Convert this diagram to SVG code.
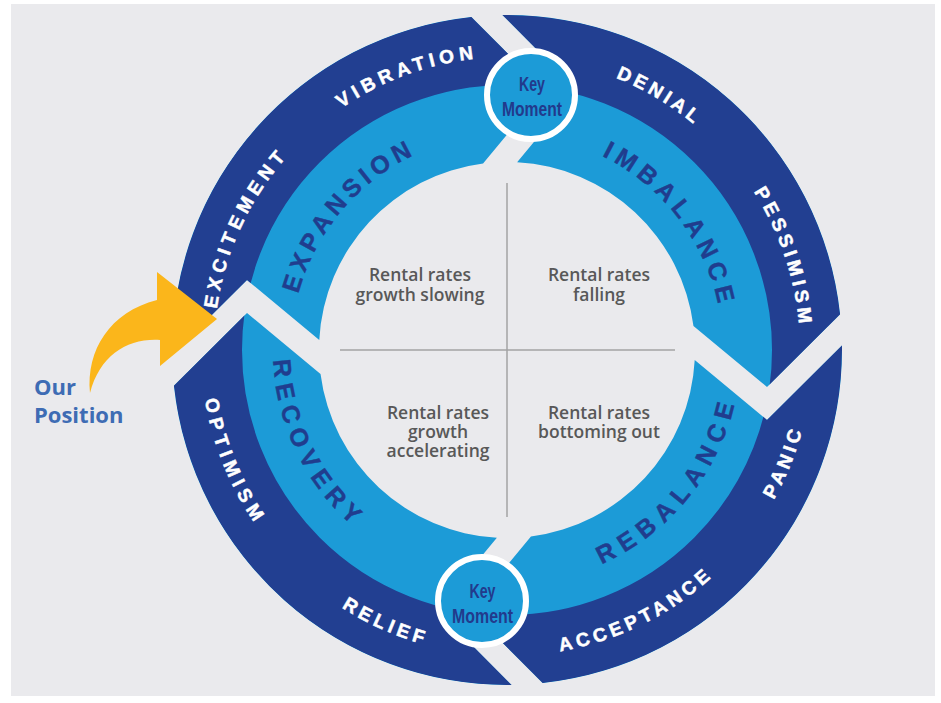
<svg xmlns="http://www.w3.org/2000/svg" width="941" height="703" viewBox="0 0 941 703">
  <defs>
    <style>
      .lbl-out{font-family:"Liberation Sans",Arial,sans-serif;font-weight:700;font-size:19px;fill:#ffffff;stroke:#ffffff;stroke-width:0.5px}
      .lbl-in{font-family:"Liberation Sans",Arial,sans-serif;font-weight:700;font-size:25px;fill:#203d8e;stroke:#203d8e;stroke-width:0.4px}
      .note{font-family:"Open Sans","Liberation Sans",sans-serif;font-weight:600;font-size:17.5px;fill:#585858;text-anchor:middle}
      .km-circle{fill:#1c9bd7;stroke:#ffffff;stroke-width:6}
      .km-text{font-family:"Liberation Sans",Arial,sans-serif;font-weight:700;font-size:19.5px;fill:#223a8c;text-anchor:middle}
      .axis{stroke:#a3a3a3;stroke-width:1.5;fill:none}
      .pos{font-family:"Open Sans","Liberation Sans",sans-serif;font-weight:700;font-size:22px;fill:#3e6cb4}
    </style>

    <!-- one quarter of the cycle ring: notch at the start, arrow tip at the end -->
    <path id="seg-shape" d="M 841.96 345.46 A 335 335 0 0 1 542.68 683.09 L 470 610 L 530.93 536.47 A 188 188 0 0 0 694.73 360.12 L 767 420 Z"/>
    <clipPath id="seg-clip"><use href="#seg-shape"/></clipPath>
    <g id="segment">
      <use href="#seg-shape" fill="#1c9bd7"/>
      <circle cx="507" cy="350" r="300" fill="none" stroke="#223f91" stroke-width="70" clip-path="url(#seg-clip)"/>
    </g>

    <!-- label baselines (outer band r=293 clockwise / r=306 counter-clockwise, inner band r=216 / r=234) -->
    <path id="p-excitement" d="M 253.25 496.5 A 293 293 0 0 1 456.12 61.45"/>
    <path id="p-vibration" d="M 223.98 274.17 A 293 293 0 0 1 675.06 109.99"/>
    <path id="p-denial" d="M 387.83 82.33 A 293 293 0 0 1 799.29 329.56"/>
    <path id="p-pessimism" d="M 590.22 69.07 A 293 293 0 0 1 742.53 524.28"/>
    <path id="p-panic" d="M 575.83 648.16 A 306 306 0 0 0 763.63 183.34"/>
    <path id="p-acceptance" d="M 360.05 618.41 A 306 306 0 0 0 809.48 396.29"/>
    <path id="p-relief" d="M 206.62 408.39 A 306 306 0 0 0 664.6 612.29"/>
    <path id="p-optimism" d="M 249.5 184.69 A 306 306 0 0 0 439.73 648.51"/>
    <path id="p-expansion" d="M 298.07 404.82 A 216 216 0 0 1 526.95 134.93"/>
    <path id="p-imbalance" d="M 497.95 134.19 A 216 216 0 0 1 712.89 415.31"/>
    <path id="p-rebalance" d="M 490.68 583.43 A 234 234 0 0 0 731.93 285.5"/>
    <path id="p-recovery" d="M 301.75 237.63 A 234 234 0 0 0 471.61 581.31"/>
  </defs>

  <!-- backdrop -->
  <rect width="941" height="703" fill="#ffffff"/>
  <rect x="11" y="4" width="924" height="692" fill="#eaeaed"/>

  <!-- quadrant dividers -->
  <g id="quadrants">
    <line class="axis" x1="507" y1="183" x2="507" y2="517"/>
    <line class="axis" x1="340" y1="350" x2="675" y2="350"/>
  </g>

  <g id="q-expansion-note">
    <text class="note" x="420" y="281">Rental rates</text>
    <text class="note" x="420" y="301">growth slowing</text>
  </g>
  <g id="q-imbalance-note">
    <text class="note" x="599" y="281">Rental rates</text>
    <text class="note" x="599" y="301">falling</text>
  </g>
  <g id="q-rebalance-note">
    <text class="note" x="599" y="419">Rental rates</text>
    <text class="note" x="599" y="438">bottoming out</text>
  </g>
  <g id="q-recovery-note">
    <text class="note" x="438" y="419">Rental rates</text>
    <text class="note" x="438" y="438">growth</text>
    <text class="note" x="438" y="457">accelerating</text>
  </g>

  <!-- cycle segments -->
  <g id="seg-expansion">
    <use href="#segment" transform="rotate(180 507 350)"/>
    <text class="lbl-out" letter-spacing="5.1"><textPath href="#p-excitement" startOffset="50%" text-anchor="middle">EXCITEMENT</textPath></text>
    <text class="lbl-out" letter-spacing="4.9"><textPath href="#p-vibration" startOffset="50%" text-anchor="middle">VIBRATION</textPath></text>
    <text class="lbl-in" letter-spacing="5"><textPath href="#p-expansion" startOffset="50%" text-anchor="middle">EXPANSION</textPath></text>
  </g>
  <g id="seg-imbalance">
    <use href="#segment" transform="rotate(-90 507 350)"/>
    <text class="lbl-out" letter-spacing="3.9"><textPath href="#p-denial" startOffset="50%" text-anchor="middle">DENIAL</textPath></text>
    <text class="lbl-out" letter-spacing="4.4"><textPath href="#p-pessimism" startOffset="50%" text-anchor="middle">PESSIMISM</textPath></text>
    <text class="lbl-in" letter-spacing="5.6"><textPath href="#p-imbalance" startOffset="50%" text-anchor="middle">IMBALANCE</textPath></text>
  </g>
  <g id="seg-rebalance">
    <use href="#segment"/>
    <text class="lbl-out" letter-spacing="4.1"><textPath href="#p-panic" startOffset="50%" text-anchor="middle">PANIC</textPath></text>
    <text class="lbl-out" letter-spacing="4.4"><textPath href="#p-acceptance" startOffset="50%" text-anchor="middle">ACCEPTANCE</textPath></text>
    <text class="lbl-in" letter-spacing="7.2"><textPath href="#p-rebalance" startOffset="50%" text-anchor="middle">REBALANCE</textPath></text>
  </g>
  <g id="seg-recovery">
    <use href="#segment" transform="rotate(90 507 350)"/>
    <text class="lbl-out" letter-spacing="4.3"><textPath href="#p-relief" startOffset="50%" text-anchor="middle">RELIEF</textPath></text>
    <text class="lbl-out" letter-spacing="5.6"><textPath href="#p-optimism" startOffset="50%" text-anchor="middle">OPTIMISM</textPath></text>
    <text class="lbl-in" letter-spacing="6.9"><textPath href="#p-recovery" startOffset="50%" text-anchor="middle">RECOVERY</textPath></text>
  </g>

  <!-- key moments -->
  <g id="key-moment-top">
    <circle class="km-circle" cx="531" cy="95" r="44"/>
    <text class="km-text" x="532" y="91" textLength="26" lengthAdjust="spacingAndGlyphs">Key</text>
    <text class="km-text" x="532" y="116" textLength="60" lengthAdjust="spacingAndGlyphs">Moment</text>
  </g>
  <g id="key-moment-bottom">
    <circle class="km-circle" cx="482" cy="601" r="44"/>
    <text class="km-text" x="482.5" y="598" textLength="26" lengthAdjust="spacingAndGlyphs">Key</text>
    <text class="km-text" x="482.5" y="623" textLength="61" lengthAdjust="spacingAndGlyphs">Moment</text>
  </g>

  <!-- position marker -->
  <g id="our-position">
    <text class="pos" x="34" y="395">Our</text>
    <text class="pos" x="34" y="423">Position</text>
  </g>
  <g id="connectors">
    <path d="M 90 393 C 86 350 110 312 157 300 L 157 272 L 217 319 L 160 366 L 160 340 C 128 338 100 355 90 393 Z" fill="#fbb61b"/>
  </g>
</svg>
